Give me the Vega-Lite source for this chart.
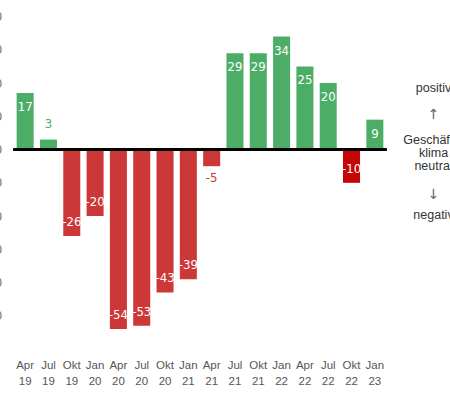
{
  "$schema": "https://vega.github.io/schema/vega-lite/v6.json",
  "padding": {"left": -19.5, "top": 0, "right": 0, "bottom": 0},
  "config": {"view": {"stroke": null}, "concat": {"spacing": 6}},
  "datasets": {
    "bars": [
      {"q": "Apr 19", "v": 17},
      {"q": "Jul 19", "v": 3},
      {"q": "Okt 19", "v": -26},
      {"q": "Jan 20", "v": -20},
      {"q": "Apr 20", "v": -54},
      {"q": "Jul 20", "v": -53},
      {"q": "Okt 20", "v": -43},
      {"q": "Jan 21", "v": -39},
      {"q": "Apr 21", "v": -5},
      {"q": "Jul 21", "v": 29},
      {"q": "Okt 21", "v": 29},
      {"q": "Jan 22", "v": 34},
      {"q": "Apr 22", "v": 25},
      {"q": "Jul 22", "v": 20},
      {"q": "Okt 22", "v": -10},
      {"q": "Jan 23", "v": 9}
    ],
    "legend": [
      {"t": "positiv", "y": 18.5, "k": "text"},
      {"t": "↑", "y": 10.4, "k": "arrow"},
      {"t": "Geschäfts-", "y": 2.9, "k": "text"},
      {"t": "klima", "y": -0.9, "k": "text"},
      {"t": "neutral", "y": -4.8, "k": "text"},
      {"t": "↓", "y": -13.7, "k": "arrow"},
      {"t": "negativ", "y": -19.8, "k": "text"}
    ]
  },
  "hconcat": [
    {
      "width": 373,
      "height": 349,
      "data": {"name": "bars"},
      "encoding": {
        "x": {
          "field": "q",
          "type": "nominal",
          "sort": null,
          "scale": {"paddingInner": 0.27, "paddingOuter": 0.135},
          "axis": {
            "title": null,
            "domain": false,
            "ticks": false,
            "labelAngle": 0,
            "labelPadding": 10,
            "labelFont": "Liberation Sans",
            "labelFontSize": 11.5,
            "labelColor": "#555555",
            "labelLineHeight": 16,
            "labelExpr": "split(datum.value, ' ')"
          }
        },
        "y": {
          "field": "v",
          "type": "quantitative",
          "scale": {"domain": [-60, 45], "nice": false, "zero": false},
          "axis": {
            "title": null,
            "domain": false,
            "ticks": false,
            "grid": false,
            "values": [40, 30, 20, 10, 0, -10, -20, -30, -40, -50],
            "labelPadding": 12,
            "labelFont": "Liberation Sans",
            "labelFontSize": 12,
            "labelColor": "#666666"
          }
        }
      },
      "layer": [
        {
          "mark": {"type": "bar"},
          "encoding": {
            "color": {
              "condition": [
                {"test": "datum.v >= 0", "value": "#4cae66"},
                {"test": "datum.q == 'Okt 22'", "value": "#c60606"}
              ],
              "value": "#cc3838"
            }
          }
        },
        {
          "mark": {"type": "rule", "color": "#000000", "strokeWidth": 1.5},
          "encoding": {"y": {"datum": 0}, "x": null}
        },
        {
          "transform": [{"filter": "datum.v >= 5"}],
          "mark": {"type": "text", "baseline": "middle", "dy": 14, "color": "#ffffff", "font": "DejaVu Sans Condensed", "fontSize": 13},
          "encoding": {"text": {"field": "v", "type": "nominal"}}
        },
        {
          "transform": [{"filter": "datum.v <= -10"}],
          "mark": {"type": "text", "baseline": "middle", "dy": -14, "color": "#ffffff", "font": "DejaVu Sans Condensed", "fontSize": 13},
          "encoding": {"text": {"field": "v", "type": "nominal"}}
        },
        {
          "transform": [{"filter": "datum.v > 0 && datum.v < 5"}],
          "mark": {"type": "text", "baseline": "middle", "dy": -16, "color": "#4cae66", "font": "DejaVu Sans Condensed", "fontSize": 13},
          "encoding": {"text": {"field": "v", "type": "nominal"}}
        },
        {
          "transform": [{"filter": "datum.v < 0 && datum.v > -10"}],
          "mark": {"type": "text", "baseline": "middle", "dy": 12, "color": "#cc3838", "font": "DejaVu Sans Condensed", "fontSize": 13},
          "encoding": {"text": {"field": "v", "type": "nominal"}}
        }
      ]
    },
    {
      "width": 80,
      "height": 349,
      "data": {"name": "legend"},
      "encoding": {
        "y": {"field": "y", "type": "quantitative", "scale": {"domain": [-60, 45], "nice": false, "zero": false}, "axis": null},
        "text": {"field": "t", "type": "nominal"}
      },
      "layer": [
        {
          "transform": [{"filter": "datum.k == 'text'"}],
          "mark": {"type": "text", "baseline": "middle", "font": "Liberation Sans", "fontSize": 12.5, "color": "#333333"}
        },
        {
          "transform": [{"filter": "datum.k == 'arrow'"}],
          "mark": {"type": "text", "baseline": "middle", "font": "DejaVu Sans", "fontSize": 14, "color": "#666666"}
        }
      ]
    }
  ]
}
